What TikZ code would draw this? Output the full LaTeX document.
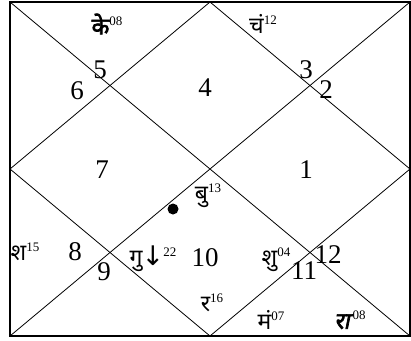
\documentclass[tikz,border=0pt]{standalone}
\usepackage{fontspec}
\setmainfont{Liberation Serif}
\newfontfamily\dev[Script=Devanagari]{Noto Sans}
\newfontfamily\devb[Script=Devanagari,FakeBold=3]{Noto Sans}
\newfontfamily\devbi[Script=Devanagari,FakeBold=3,FakeSlant=0.2]{Noto Sans}
\newfontfamily\sym{DejaVu Sans}
\newcommand\sx[1]{\raisebox{9pt}{\fontsize{13}{13}\selectfont\rmfamily #1}}
\begin{document}
\begin{tikzpicture}[x=1pt,y=-1pt,
  num/.style={inner sep=0pt,font=\fontsize{27}{27}\selectfont},
  pl/.style={inner sep=0pt,font=\fontsize{23}{23}\selectfont\dev}]
\useasboundingbox (0,0) rectangle (411,340);
\coordinate (tl) at (10,2); \coordinate (tr) at (410,2);
\coordinate (bl) at (10,336); \coordinate (br) at (410,336);
\coordinate (tm) at (210,2); \coordinate (bm) at (210,336);
\coordinate (lm) at (10,169); \coordinate (rm) at (410,169);
\draw[line width=1.2pt] (tl) rectangle (br);
\draw[line width=0.8pt] (tl) -- (br) (tr) -- (bl);
\draw[line width=0.8pt] (tm) -- (rm) -- (bm) -- (lm) -- cycle;
% house numbers
\node[num] (h6) at (77,91) {6};
\node[num] (h5) at (100,70) {5};
\node[num] (h4) at (205,88) {4};
\node[num] (h3) at (306,70) {3};
\node[num] (h2) at (326,90) {2};
\node[num] (h7) at (102,170) {7};
\node[num] (h1) at (306,170) {1};
\node[num] (h8) at (75,252) {8};
\node[num] (h9) at (104,272) {9};
\node[num] (h10) at (205,258) {10};
\node[num] (h11) at (304,271) {11};
\node[num] (h12) at (328,255) {12};
% planets
\node[pl] (ke) at (107,24) {{\devb के}\sx{08}};
\node[pl] (ch) at (263,24) {चं\sx{12}};
\node[pl] (bu) at (208,196) {बु\sx{13}};
\fill (173,209) circle (5.5);
\node[pl] (sh) at (25,252) {श\sx{15}};
\node[pl] (gu) at (153,259) {गु\kern-1pt{\sym\fontsize{27}{27}\selectfont ↓}\kern-1pt\sx{22}};
\node[pl] (shu) at (276,260) {शु\sx{04}};
\node[pl] (ra) at (212,303) {र\sx{16}};
\node[pl] (ma) at (271,320) {मं\sx{07}};
\node[pl] (rah) at (350,320) {{\devbi रा}\kern3pt\sx{08}};
\end{tikzpicture}
\end{document}
